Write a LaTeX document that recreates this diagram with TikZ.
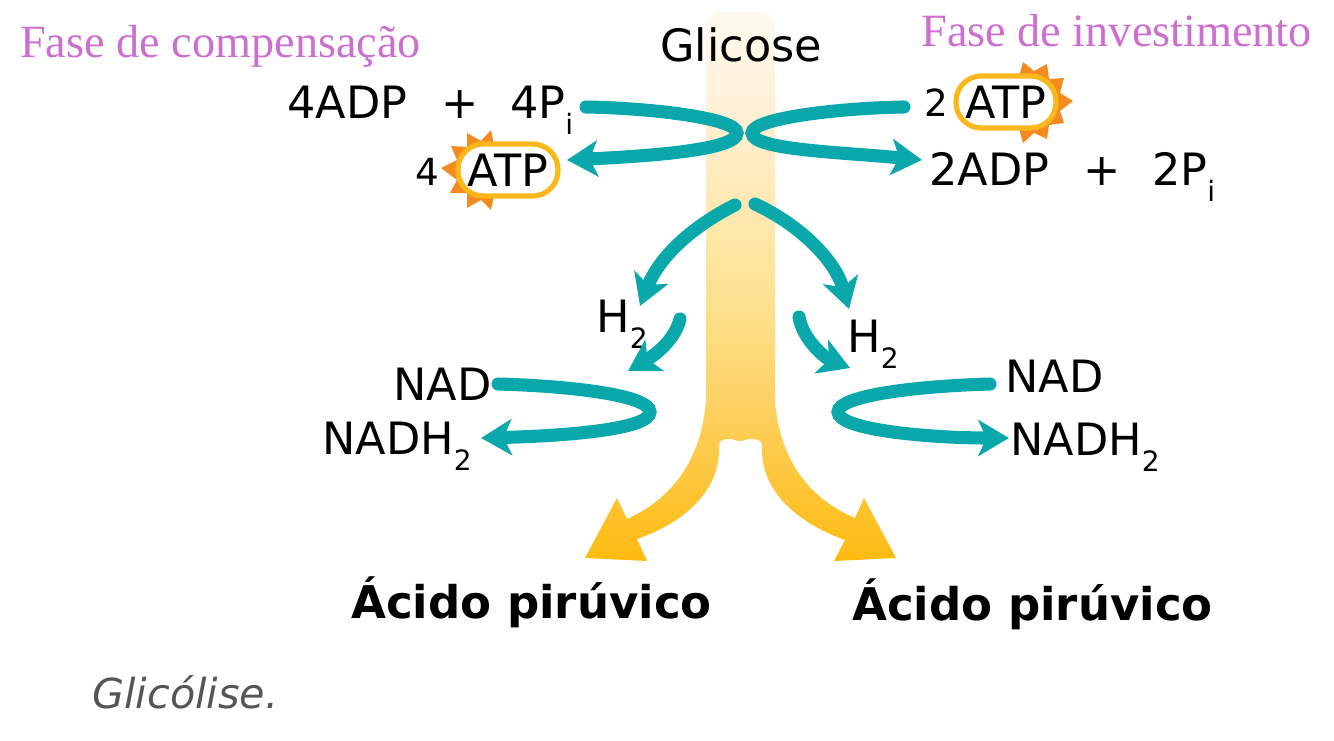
\documentclass[tikz,border=0pt]{standalone}
\usepackage{fontspec}
\setmainfont{DejaVu Sans}
\newfontfamily\serifpt{Liberation Serif}
\usetikzlibrary{arrows.meta}
\definecolor{teal1}{HTML}{0AA8AA}
\definecolor{purp}{HTML}{CC70D0}
\definecolor{pillc}{HTML}{FBB81C}
\definecolor{sunc}{HTML}{F58A1F}
\definecolor{greyt}{HTML}{555555}
\definecolor{ga}{HTML}{FFFAF0}
\definecolor{gb}{HTML}{FFF1D9}
\definecolor{gc}{HTML}{FEE291}
\definecolor{gd}{HTML}{FDD060}
\definecolor{ge}{HTML}{FDBB10}
\pgfdeclareverticalshading{glyc}{100bp}{color(0bp)=(ge); color(25bp)=(ge); color(38.8bp)=(gd); color(48.8bp)=(gc); color(67bp)=(gb); color(75bp)=(ga); color(100bp)=(ga)}
\newcommand{\subs}[1]{\raisebox{-0.36em}{\fontsize{21}{21}\selectfont #1}}
\tikzset{
  x=0.75pt,y=-0.75pt,
  lab/.style={anchor=base west,inner sep=0pt,font=\fontsize{33.4}{33.4}\selectfont,text=black},
  small/.style={anchor=base west,inner sep=0pt,font=\fontsize{28}{28}\selectfont,text=black},
  head/.style={anchor=base west,inner sep=0pt,font=\serifpt\fontsize{34.7}{34.7}\selectfont,text=purp},
  prod/.style={anchor=base west,inner sep=0pt,font=\bfseries\fontsize{33.8}{33.8}\selectfont,text=black},
  cap1/.style={anchor=base west,inner sep=0pt,font=\itshape\fontsize{31}{31}\selectfont,text=greyt},
  pill/.style={draw=pillc,line width=3.9pt,fill=white,rounded corners=19pt,minimum width=75pt,minimum height=39pt,inner sep=0pt,font=\fontsize{33.4}{33.4}\selectfont},
  sun/.style={fill=sunc,draw=none},
  tealarrow/.style={draw=teal1,line width=9.8pt,line cap=round,-{Stealth[length=23pt,width=27pt,inset=6pt]}},
}
\begin{document}
\begin{tikzpicture}
\useasboundingbox (0,0) rectangle (1334,740);
% glucose band and pyruvate arrows
\path[shading=glyc]
  (706,28) .. controls (706,17) and (714,12) .. (722,12) -- (760,12)
  .. controls (768,12) and (775,17) .. (775,28) -- (775,400)
  .. controls (779,455) and (805,497) .. (855,518)
  -- (864,498) -- (896,558) -- (834,561) -- (845,540)
  .. controls (795,522) and (762,490) .. (762,450)
  -- (762,445) .. controls (762,441) and (758,439) .. (750,439)
  .. controls (745,439) and (745,441) .. (740,441)
  .. controls (735,441) and (735,439) .. (730,439)
  .. controls (722,439) and (719,441) .. (719,445) -- (719,450)
  .. controls (719,490) and (686,522) .. (637,539)
  -- (647,561) -- (585,558) -- (617,498) -- (627,519)
  .. controls (676,497) and (702,455) .. (706,400) -- cycle;
% texts
\node[head] (fc) at (20,57) {Fase de compensação};
\node[head] (fi) at (921,46) {Fase de investimento};
\node[lab] (gl) at (660,61) {Glicose};
\node[lab] (adpa) at (287,118) {4ADP};
\node[lab] (plusa) at (441,118) {+};
\node[lab] (pa) at (510,118) {4P\subs{i}};
\node[small] (na) at (415,185) {4};
\node[small] (nb) at (924,116) {2};
\node[lab] (adpb) at (929,185) {2ADP};
\node[lab] (plusb) at (1083,185) {+};
\node[lab] (pb) at (1152,185) {2P\subs{i}};
\node[lab] (ha) at (596,332) {H\subs{2}};
\node[lab] (hb) at (847,352) {H\subs{2}};
\node[lab] (nada) at (393,400) {NAD};
\node[lab] (nadha) at (322,454) {NADH\subs{2}};
\node[lab] (nadb) at (1005,392) {NAD};
\node[lab] (nadhb) at (1010,455) {NADH\subs{2}};
\node[prod] (pira) at (351,618) {Ácido pirúvico};
\node[prod] (pirb) at (852,620) {Ácido pirúvico};
\node[cap1] (capt) at (92,708) {Glicólise.};
% ATP suns
\fill[sun] (441,168) -- (457,160) -- (451,146) -- (467,147) -- (467,133) -- (481,141) -- (491,130)
  -- (495,150) -- (495,190) -- (491,210) -- (481,200) -- (467,208) -- (467,193) -- (450,193) -- (457,180) -- cycle;
\fill[sun] (1073,101) -- (1060,93) -- (1064,78) -- (1049,79) -- (1047,64) -- (1034,71) -- (1023,62)
  -- (1018,80) -- (1018,125) -- (1023,143) -- (1034,133) -- (1047,139) -- (1049,125) -- (1064,123) -- (1060,111) -- cycle;
\node[pill] (atpa) at (508,170) {ATP};
\node[pill] (atpb) at (1006,102) {ATP};
% connector anchors
\coordinate (s1) at (586,107); \coordinate (e1) at (567,160);
\coordinate (s2) at (904,107); \coordinate (e2) at (922,160);
\coordinate (s3) at (735,205); \coordinate (e3) at (640,306);
\coordinate (s4) at (755,204); \coordinate (e4) at (849,309);
\coordinate (s5) at (680,319); \coordinate (e5) at (628,371);
\coordinate (s6) at (799,317); \coordinate (e6) at (850,368);
\coordinate (s7) at (498,384); \coordinate (e7) at (481,438);
\coordinate (s8) at (990,384); \coordinate (e8) at (1009,438);
% connectors
\draw[tealarrow] (s1) .. controls (650,108) and (737,118) .. (737,133) .. controls (737,150) and (650,156) .. (e1);
\draw[tealarrow] (s2) .. controls (840,108) and (752,118) .. (752,133) .. controls (752,150) and (840,152) .. (e2);
\draw[tealarrow] (s3) .. controls (695,225) and (660,255) .. (e3);
\draw[tealarrow] (s4) .. controls (800,225) and (835,260) .. (e4);
\draw[tealarrow] (s5) .. controls (675,340) and (655,355) .. (e5);
\draw[tealarrow] (s6) .. controls (803,340) and (825,358) .. (e6);
\draw[tealarrow] (s7) .. controls (570,386) and (650,395) .. (650,412) .. controls (650,430) and (560,436) .. (e7);
\draw[tealarrow] (s8) .. controls (920,386) and (838,395) .. (838,412) .. controls (838,430) and (930,438) .. (e8);
\end{tikzpicture}
\end{document}
